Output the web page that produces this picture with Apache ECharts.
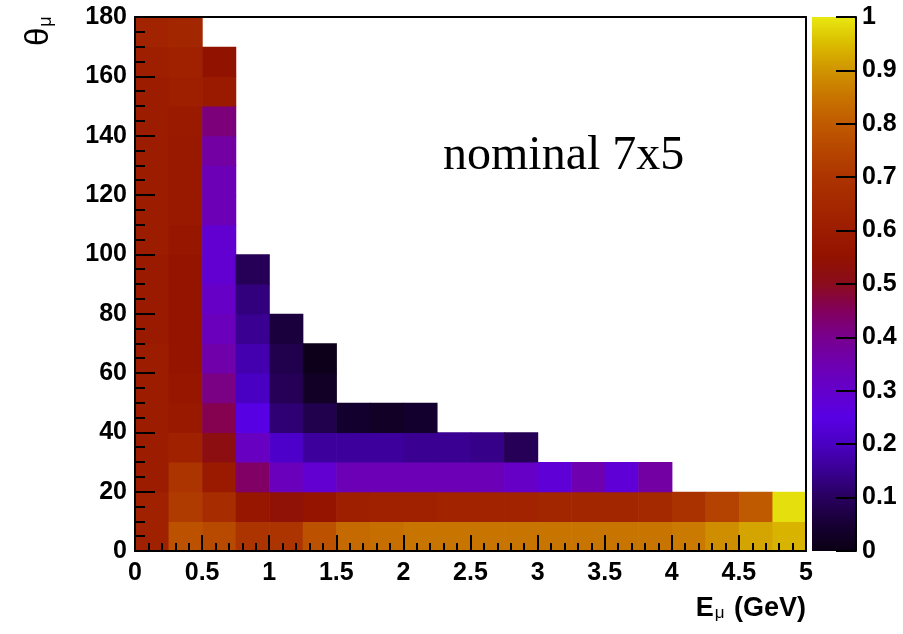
<!DOCTYPE html>
<html>
<head>
<meta charset="utf-8">
<script src="https://cdn.jsdelivr.net/npm/echarts@6/dist/echarts.min.js"></script>
<style>
  html, body { margin: 0; padding: 0; background: #fff; }
  #chart { width: 903px; height: 634px; }
</style>
</head>
<body>
<div id="chart"></div>
<script>
// Bin layout: muon energy (GeV) and angle (degrees)
const energyEdges = [0, 0.25, 0.5, 0.75, 1, 1.25, 1.5, 1.75, 2, 2.25, 2.5, 2.75, 3, 3.25, 3.5, 3.75, 4, 4.25, 4.5, 4.75, 5];
const thetaEdges = [0, 10, 20, 30, 40, 50, 60, 70, 80, 90, 100, 110, 120, 130, 140, 150, 160, 170, 180];

// Cell contents per theta row, starting from the lowest energy bin
const theta0to10    = [0.62, 0.78, 0.76, 0.70, 0.70, 0.78, 0.83, 0.84, 0.85, 0.85, 0.85, 0.85, 0.85, 0.85, 0.85, 0.85, 0.86, 0.89, 0.92, 0.94];
const theta10to20   = [0.62, 0.72, 0.67, 0.57, 0.54, 0.56, 0.61, 0.62, 0.62, 0.63, 0.63, 0.63, 0.64, 0.64, 0.64, 0.65, 0.69, 0.74, 0.80, 0.99];
const theta20to30   = [0.60, 0.70, 0.59, 0.44, 0.33, 0.29, 0.34, 0.34, 0.34, 0.34, 0.34, 0.31, 0.28, 0.35, 0.28, 0.37];
const theta30to40   = [0.60, 0.62, 0.52, 0.32, 0.21, 0.16, 0.16, 0.16, 0.15, 0.15, 0.14, 0.09];
const theta40to50   = [0.60, 0.58, 0.46, 0.25, 0.12, 0.08, 0.04, 0.03, 0.04];
const theta50to60   = [0.60, 0.57, 0.41, 0.20, 0.09, 0.03];
const theta60to70   = [0.60, 0.56, 0.36, 0.18, 0.08, 0.01];
const theta70to80   = [0.59, 0.56, 0.33, 0.15, 0.06];
const theta80to90   = [0.59, 0.56, 0.31, 0.13];
const theta90to100  = [0.59, 0.56, 0.29, 0.09];
const theta100to110 = [0.60, 0.57, 0.29];
const theta110to120 = [0.60, 0.58, 0.34];
const theta120to130 = [0.60, 0.58, 0.34];
const theta130to140 = [0.60, 0.58, 0.37];
const theta140to150 = [0.60, 0.59, 0.42];
const theta150to160 = [0.60, 0.61, 0.59];
const theta160to170 = [0.61, 0.62, 0.55];
const theta170to180 = [0.63, 0.64];

const thetaRows = [
  theta0to10, theta10to20, theta20to30, theta30to40, theta40to50, theta50to60,
  theta60to70, theta70to80, theta80to90, theta90to100, theta100to110, theta110to120,
  theta120to130, theta130to140, theta140to150, theta150to160, theta160to170, theta170to180
];

// Colour scale ticks
const scaleTicks = [0, 0.1, 0.2, 0.3, 0.4, 0.5, 0.6, 0.7, 0.8, 0.9, 1];

// Dark-body style palette, evenly spaced from 0 to 1
const palette = [
  '#0a0014', '#170034', '#28005e', '#3a0092', '#4a00c2', '#5800e4', '#6400cc',
  '#6e00b0', '#78008e', '#82005c', '#8a0c1c', '#921200', '#9c1c00', '#a42800',
  '#ac3400', '#b64600', '#c05a00', '#c87400', '#d09400', '#dabc00', '#e8e810'
];

const cells = [];
thetaRows.forEach((row, j) => {
  row.forEach((v, i) => {
    cells.push([energyEdges[i], thetaEdges[j], v, energyEdges[i + 1], thetaEdges[j + 1]]);
  });
});

const tickFont = { fontFamily: 'Liberation Sans', fontWeight: 'bold', fontSize: 25, color: '#000' };

const chart = echarts.init(document.getElementById('chart'), null, { renderer: 'canvas' });

const option = {
  backgroundColor: '#fff',
  animation: false,
  grid: [
    { left: 135, top: 17, width: 671, height: 534, containLabel: false },
    { left: 812, top: 17, width: 44, height: 534, containLabel: false }
  ],
  visualMap: {
    type: 'continuous',
    show: false,
    min: 0,
    max: 1,
    dimension: 2,
    seriesIndex: 0,
    inRange: { color: palette }
  },
  xAxis: [
    {
      gridIndex: 0, type: 'value', min: 0, max: 5, interval: 0.5, z: 10,
      axisLine: { show: true, onZero: false, lineStyle: { color: '#000', width: 2 } },
      axisTick: { show: true, inside: true, length: 16, lineStyle: { color: '#000', width: 2 } },
      minorTick: { show: true, splitNumber: 5, length: 8, lineStyle: { color: '#000', width: 2 } },
      splitLine: { show: false },
      axisLabel: Object.assign({ margin: 10, showMinLabel: true, showMaxLabel: true }, tickFont)
    },
    {
      gridIndex: 0, type: 'value', position: 'top', min: 0, max: 5, z: 10,
      axisLine: { show: true, onZero: false, lineStyle: { color: '#000', width: 2 } },
      axisTick: { show: false }, axisLabel: { show: false }, splitLine: { show: false }
    },
    {
      gridIndex: 1, type: 'value', min: 0, max: 1, show: false
    }
  ],
  yAxis: [
    {
      gridIndex: 0, type: 'value', min: 0, max: 180, interval: 20, z: 10,
      axisLine: { show: true, onZero: false, lineStyle: { color: '#000', width: 2 } },
      axisTick: { show: true, inside: true, length: 20, lineStyle: { color: '#000', width: 2 } },
      minorTick: { show: true, splitNumber: 4, length: 10, lineStyle: { color: '#000', width: 2 } },
      splitLine: { show: false },
      axisLabel: Object.assign({ margin: 8, showMinLabel: true, showMaxLabel: true }, tickFont)
    },
    {
      gridIndex: 0, type: 'value', position: 'right', min: 0, max: 180, z: 10,
      axisLine: { show: true, onZero: false, lineStyle: { color: '#000', width: 2 } },
      axisTick: { show: false }, axisLabel: { show: false }, splitLine: { show: false }
    },
    {
      gridIndex: 1, type: 'value', position: 'right', min: 0, max: 1, interval: 0.1, z: 10,
      axisLine: { show: true, onZero: false, lineStyle: { color: '#000', width: 2 } },
      axisTick: { show: true, inside: true, length: 20, lineStyle: { color: '#000', width: 2 } },
      splitLine: { show: false },
      axisLabel: Object.assign({
        margin: 6, showMinLabel: true, showMaxLabel: true,
        padding: [7, 0, 0, 0],
        customValues: scaleTicks,
        formatter: v => String(Math.round(v * 10) / 10)
      }, tickFont)
    }
  ],
  series: [
    {
      type: 'custom',
      name: 'cells',
      xAxisIndex: 0,
      yAxisIndex: 0,
      z: 2,
      data: cells,
      encode: { x: [0, 3], y: [1, 4] },
      renderItem: function (params, api) {
        const p0 = api.coord([api.value(0), api.value(1)]);
        const p1 = api.coord([api.value(3), api.value(4)]);
        return {
          type: 'rect',
          shape: {
            x: p0[0],
            y: p1[1],
            width: p1[0] - p0[0] + 0.6,
            height: p0[1] - p1[1] + 0.6
          },
          style: { fill: api.visual('color') }
        };
      }
    },
    {
      type: 'custom',
      name: 'scale',
      xAxisIndex: 2,
      yAxisIndex: 2,
      z: 2,
      data: [[0, 0, 1, 1]],
      renderItem: function (params, api) {
        const p0 = api.coord([api.value(0), api.value(1)]);
        const p1 = api.coord([api.value(2), api.value(3)]);
        return {
          type: 'rect',
          shape: { x: p0[0], y: p1[1], width: p1[0] - p0[0], height: p0[1] - p1[1] },
          style: {
            fill: new echarts.graphic.LinearGradient(0, 1, 0, 0,
              palette.map((c, k) => ({ offset: k / (palette.length - 1), color: c })))
          }
        };
      }
    }
  ],
  graphic: [
    {
      type: 'text',
      left: 443,
      top: 132,
      style: {
        text: 'nominal 7x5',
        font: '48px "Liberation Serif"',
        fill: '#000'
      }
    },
    {
      type: 'text',
      right: 97,
      top: 595,
      style: {
        text: '{b|E}{s|μ}{b| (GeV)}',
        rich: {
          b: { fontFamily: 'Liberation Sans', fontWeight: 'bold', fontSize: 27, color: '#000', verticalAlign: 'bottom' },
          s: { fontFamily: 'Liberation Sans', fontSize: 17, color: '#000', padding: [13, 2, 0, 1], verticalAlign: 'bottom' }
        }
      }
    },
    {
      type: 'text',
      x: 22,
      y: 46,
      rotation: Math.PI / 2,
      style: {
        text: '{t|θ}{s|μ}',
        rich: {
          t: { fontFamily: 'Liberation Sans', fontSize: 33, color: '#000', verticalAlign: 'bottom' },
          s: { fontFamily: 'Liberation Sans', fontSize: 18, color: '#000', padding: [14, 0, 0, 1], verticalAlign: 'bottom' }
        }
      }
    }
  ]
};

chart.setOption(option);
</script>
</body>
</html>
